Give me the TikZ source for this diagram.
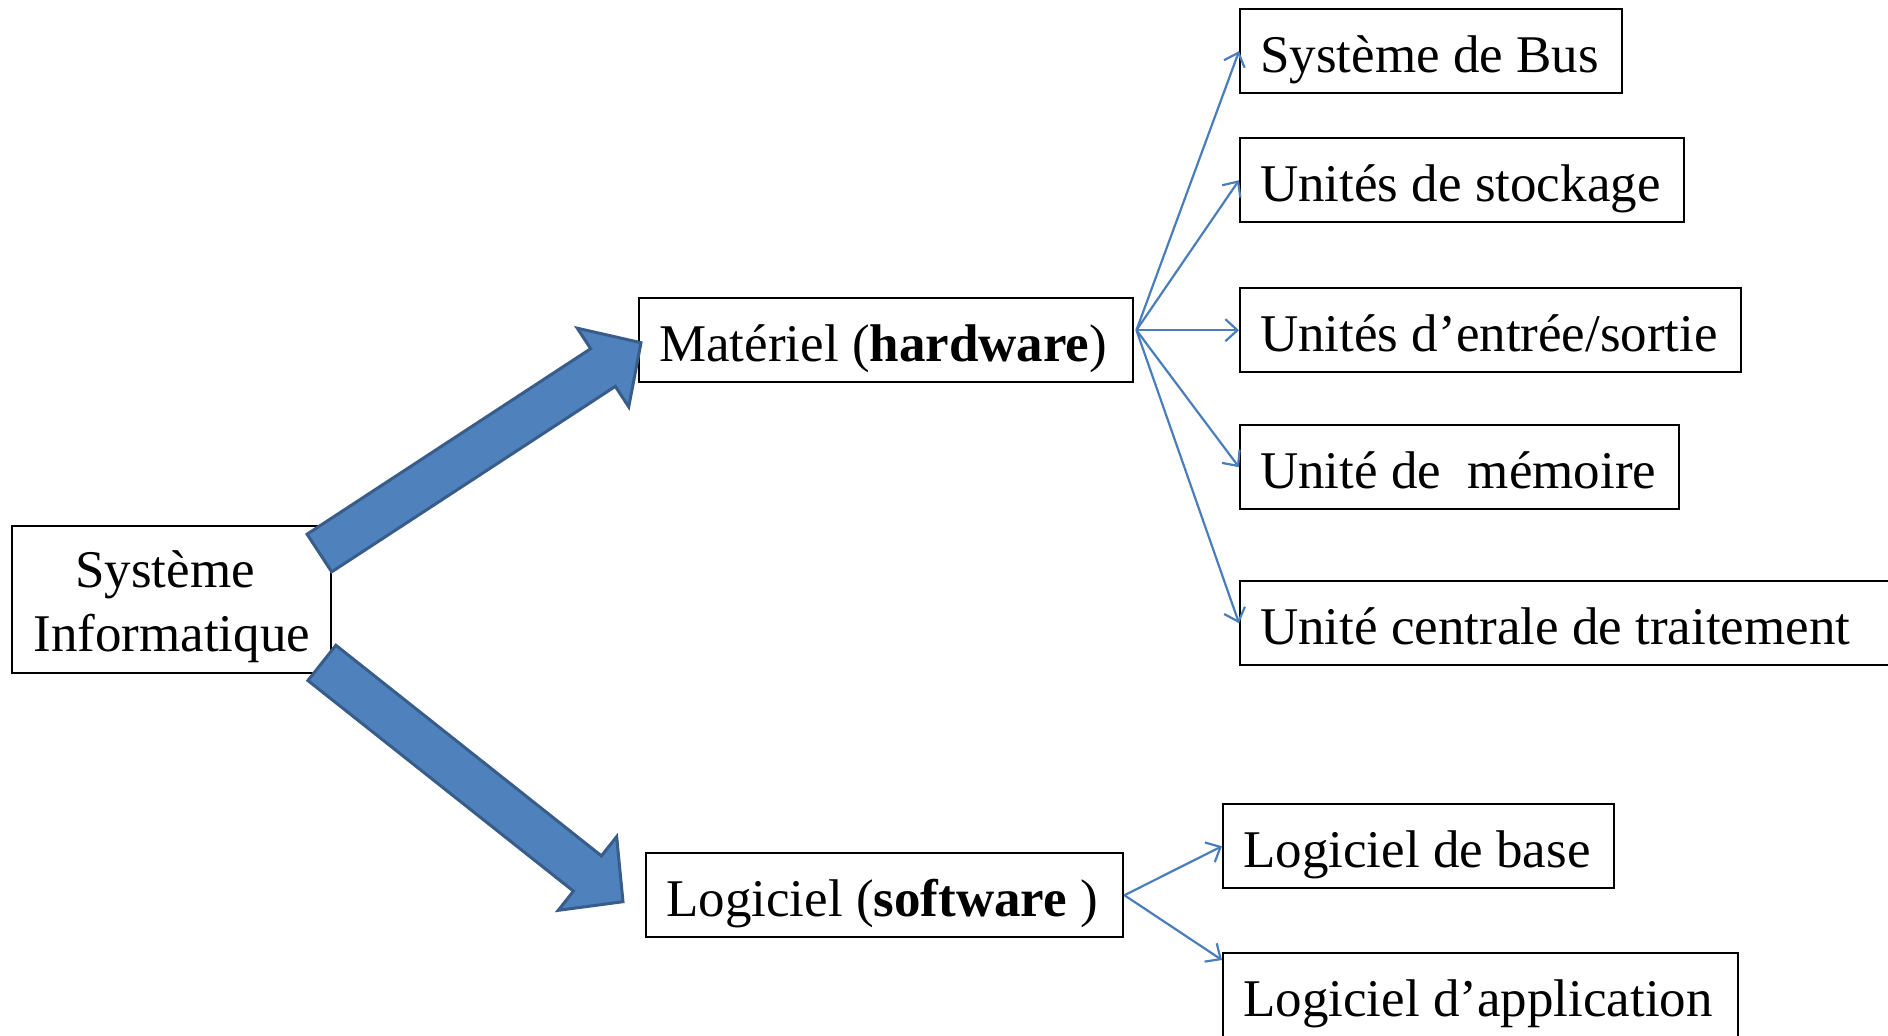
\documentclass[tikz,border=0pt]{standalone}
\usepackage{fontspec}
\setmainfont{Liberation Serif}
\usetikzlibrary{shapes.arrows,arrows.meta,calc}
\definecolor{arrowfill}{HTML}{4F81BD}
\definecolor{arrowedge}{HTML}{385D8A}
\definecolor{linkblue}{HTML}{4A7EBB}
% fixed-width, left-aligned label inside a box
\newcommand\fixw[2]{\makebox[#1][l]{#2}}

\begin{document}
\begin{tikzpicture}[x=0.5pt,y=-0.5pt,
  every node/.style={font=\fontsize{26.5}{32}\selectfont},
  box/.style={draw, line width=1.2pt, anchor=north west, inner xsep=10pt,
    inner ysep=0pt, text height=31.5pt, text depth=10.5pt},
  rootbox/.style={draw, line width=1.2pt, anchor=north west, inner sep=0pt,
    minimum width=159.5pt, minimum height=73.5pt},
  link/.style={draw=linkblue, line width=1.1pt,
    -{Straight Barb[length=6pt,width=11pt]}},
  bigarrow/.style={single arrow, draw=arrowedge, fill=arrowfill,
    line width=1.5pt, inner xsep=0pt, inner ysep=10.5pt, outer sep=0pt,
    single arrow head extend=12.25pt, single arrow tip angle=92}]
\useasboundingbox (0,0) rectangle (1888,1035);

% root
\node[rootbox] (si) at (11,525)
  {\begin{tabular}{@{}c@{}}\rule{0pt}{29.4pt}Système\kern6.6pt\\Informatique\end{tabular}};

% two branches
\node[box] (mat) at (638,297) {\fixw{227pt}{Matériel (\textbf{hardware})}};
\node[box] (log) at (645,852) {\fixw{218.5pt}{Logiciel (\textbf{software} )}};

% hardware components
\node[box] (bus) at (1239,8)   {\fixw{171pt}{Système de Bus}};
\node[box] (sto) at (1239,137) {\fixw{202pt}{Unités de stockage}};
\node[box] (es)  at (1239,287) {\fixw{230.5pt}{Unités d’entrée/sortie}};
\node[box] (mem) at (1239,424) {\fixw{199.5pt}{Unité de\ \ mémoire}};
\node[box] (cpu) at (1239,580) {\fixw{310.5pt}{Unité centrale de traitement}};

% software components
\node[box] (base) at (1222,803) {\fixw{175.5pt}{Logiciel de base}};
\node[box] (app)  at (1222,952) {\fixw{237.5pt}{Logiciel d’application}};

% thin links
\coordinate (hw) at ($(mat.east)+(2,-10)$);
\foreach \t in {bus,sto,es,mem,cpu}
  \draw[link] (hw) -- (\t.west);
\coordinate (appin) at ($(app.north west)+(0,8)$);
\draw[link] (log.east) -- (base.west);
\draw[link] (log.east) -- (appin);

% thick block arrows from the root
\coordinate (tA) at ($(si.north east)+(-13,28)$);
\coordinate (hA) at ($(mat.west)+(3,2.5)$);
\coordinate (tB) at ($(si.south east)+(-10.5,-11.5)$);
\coordinate (hB) at ($(log.west)+(-22,6.5)$);
\foreach \a/\b in {tA/hA,tB/hB}
  \path let \p1=($(\b)-(\a)$), \n1={atan2(\y1,\x1)}, \n2={veclen(\x1,\y1)} in
    node[bigarrow, rotate=\n1, minimum height=\n2, anchor=tail] (blk-\a) at (\a) {};
\end{tikzpicture}
\end{document}
